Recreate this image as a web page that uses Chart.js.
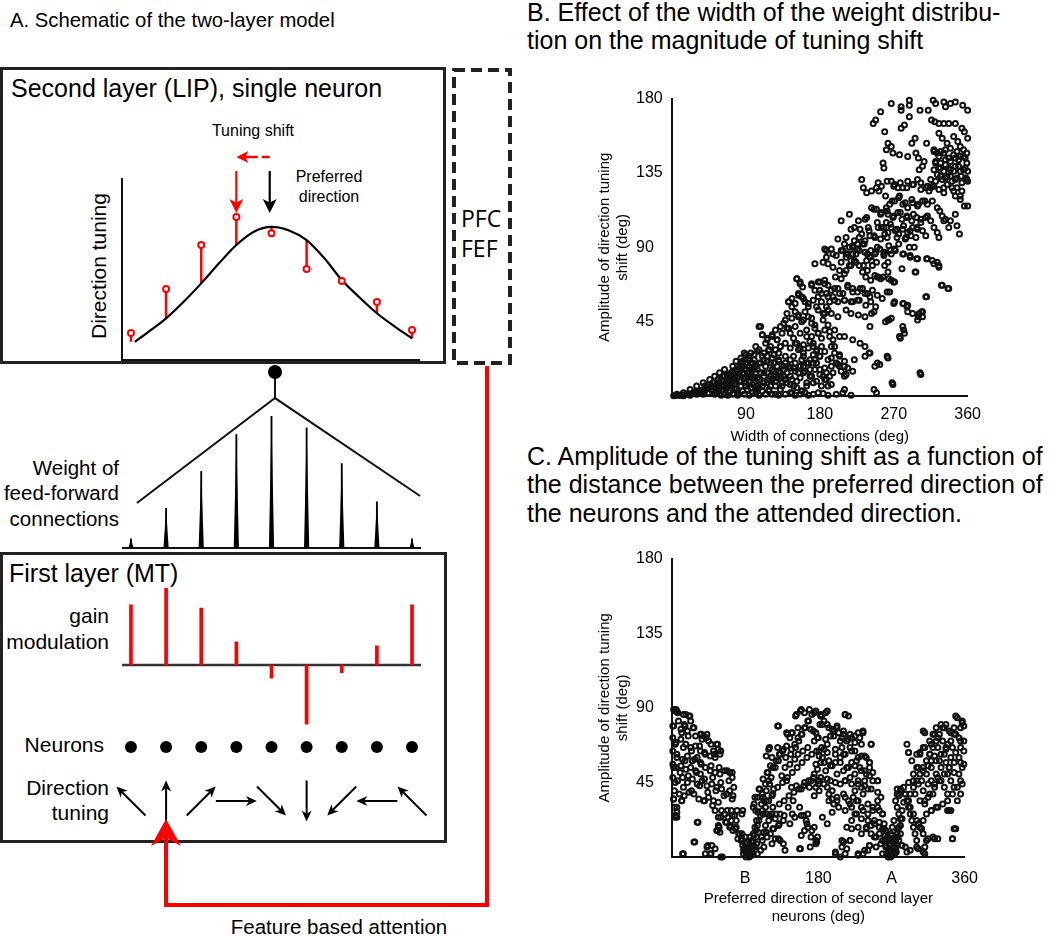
<!DOCTYPE html>
<html><head><meta charset="utf-8">
<script src="https://cdn.jsdelivr.net/npm/chart.js"></script>
<style>
html,body{margin:0;padding:0;background:#fff;}
#root{position:relative;width:1050px;height:936px;overflow:hidden;font-family:"Liberation Sans",Arial,Helvetica,sans-serif;color:#000;}
.t{position:absolute;white-space:nowrap;color:#000;}
canvas{position:absolute;}
.box{position:absolute;box-sizing:border-box;border:3px solid #222;}
.red{position:absolute;background:#f00;}
</style></head><body><div id="root"></div>
<script>
// ---------------- DATA ----------------
const neuronIndex = [0, 1, 2, 3, 4, 5, 6, 7, 8];
// second-layer direction tuning curve (black)
const tuningCurveX = [0.11, 0.5, 1, 1.5, 2, 2.5, 3, 3.5, 4, 4.5, 5, 5.5, 6, 6.5, 7, 7.5, 8];
const tuningCurveY = [0.10, 0.155, 0.229, 0.32, 0.421, 0.53, 0.632, 0.705, 0.731, 0.712, 0.659, 0.56, 0.44, 0.345, 0.257, 0.185, 0.119];
// red stems: from curve value to attended response
const tuningStemBase = [0.10, 0.229, 0.421, 0.632, 0.731, 0.659, 0.44, 0.257, 0.119];
const tuningAttended = [0.148, 0.39, 0.632, 0.786, 0.696, 0.50, 0.434, 0.319, 0.165];
const attendedIndex = 3;
const preferredIndex = 3.95;
// feed-forward weights
const weightValues = [0.07, 0.30, 0.58, 0.86, 1.0, 0.91, 0.64, 0.35, 0.07];
// gain modulation of first layer
const gainValues = [0.78, 1.0, 0.74, 0.30, -0.17, -0.77, -0.10, 0.25, 0.78];
// preferred direction of first layer neurons (deg, math convention)
const directionAngles = [135, 90, 45, 0, -45, -90, -135, 180, 135];

// panel B
const bXTicks = [90, 180, 270, 360];
const bYTicks = [45, 90, 135, 180];
const panelBPoints = [
[267,177],[279,175],[279,173],[289,179],[289,176],[302,173],[312,173],[318,179],[321,177],[331,178],[333,175],[339,177],[345,178],[354,176],[360,173],[254,172],[259,160],[245,165],[248,167],[289,169],[279,162],[283,164],[292,153],[296,156],[310,153],[316,167],[320,166],[325,165],[331,165],[337,165],[345,165],[353,162],[356,160],[360,156],[325,159],[329,156],[335,153],[343,157],[348,154],[351,151],[263,153],[267,151],[261,149],[269,147],[277,146],[287,145],[297,147],[300,144],[307,142],[305,139],[301,137],[257,141],[258,138],
[319,149],[323,147],[327,148],[333,149],[339,150],[347,148],[355,149],[359,147],[321,142],[327,141],[333,143],[339,142],[345,144],[351,145],[357,144],[319,137],[325,138],[331,136],[337,138],[343,136],[349,139],[355,137],[360,136],[327,133],[333,132],[339,133],[345,131],[352,133],[358,132],[315,131],[321,130],[317,127],[335,128],[341,126],[347,126],[353,124],[331,126],[345,121],[351,119],[356,115],[360,115],[360,130],[337,102],[333,107],[339,106],[345,110],[350,98],[347,103],[323,99],[325,96],[329,109],[331,106],
[267,130],[271,128],[275,126],[281,126],[287,130],[293,128],[299,131],[303,129],[309,126],[313,124],[319,127],[243,124],[249,126],[255,127],[251,129],[231,131],[233,126],[237,123],[243,114],[249,113],[255,111],[261,114],[265,116],[271,118],[277,121],[281,116],[287,114],[293,117],[299,115],[305,118],[311,116],[317,118],[323,114],[326,112],[263,110],[269,108],[275,111],[280,107],[286,109],[292,106],[298,108],[303,105],[309,108],[315,106],[319,102],[261,105],[255,102],[259,98],[263,99],[267,102],[272,100],[276,98],[281,101],[287,99],[293,102],[299,101],[305,100],[309,97],[285,96],[291,97],[297,96],
[206,106],[216,110],[218,101],[212,96],[222,102],[229,101],[227,106],[235,107],[237,108],[202,95],[210,92],[220,90],[226,92],[235,94],[241,97],[247,96],[251,102],[239,102],[231,98],
[276,92],[271,89],[267,86],[259,87],[263,81],[259,79],[281,86],[290,84],[299,83],[311,83],[317,82],[323,81],[325,79],[289,90],[295,90],[253,89],[247,86],[241,84],[235,87],[224,86],[218,82],[212,84],[206,81],[196,86],[188,84],[194,89],[186,89],[190,80],[184,81],[174,80],
[196,78],[199,72],[206,71],[212,76],[218,79],[224,81],[233,79],[237,82],[243,82],[249,81],[247,73],[251,72],[257,72],[263,75],[267,70],[271,69],[297,75],[329,67],[337,65],[309,60],[305,51],[301,50],[281,56],[287,55],[271,57],[265,63],[267,47],[263,46],[178,60],[182,62],[170,68],[174,64],[180,69],[186,70],[190,67],[194,64],[202,65],[208,62],[214,66],[220,63],[229,65],[235,62],[241,60],[226,58],[218,57],[210,58],[198,58],[190,60],
[152,71],[156,69],[159,66],[154,62],[146,59],[142,57],[150,56],[158,60],[162,57],[166,54],[178,52],[184,50],[190,52],[194,50],[202,48],[212,52],[218,50],[227,49],[235,48],[241,42],[243,50],[140,50],[146,47],[154,49],[160,46],[170,47],[174,43],[138,46],[132,42],[126,40],[134,38],[142,41],[150,42],[156,38],[164,40],[170,36],[178,38],[186,40],[192,36],[198,40],[204,36],[210,36],[220,34],[229,32],[235,30],[281,42],[283,38],[277,36],[287,51],[293,50],[299,46],[305,48],
[108,42],[110,37],[116,35],[122,36],[128,34],[114,32],[120,30],[126,28],[132,30],[138,32],[144,29],[150,32],[154,28],[160,31],[166,29],[172,32],[176,28],[182,30],[186,27],[194,30],[198,26],[204,24],[210,18],[212,13],[208,2],[222,22],[235,24],[241,26],[247,18],[253,19],[263,23],[269,7],[249,2],[303,13],[180,24],[174,22],[166,20],[158,22],[150,20],[144,22],[138,24],[130,21],[122,23],[116,21],[110,24],[104,27],[100,22],[106,20],[190,22],[194,18],[186,17],
[96,26],[90,25],[84,23],[78,21],[74,18],[64,16],[58,14],[52,12],[46,10],[38,8],[30,6],[22,4],[14,2],[6,1],
[54,7],[62,9],[68,11],[72,14],[78,16],[82,14],[86,18],[92,20],[96,16],[98,12],[94,9],[90,6],[86,3],[80,2],[76,5],[72,8],[66,5],[60,3],[54,2],[48,4],[42,5],[34,3],[26,2],[18,1],[10,0.5],[82,9],[76,11],[70,2],[64,1],[102,14],[106,10],[112,8],[116,14],[122,16],[128,11],[134,8],[140,14],[146,10],[152,5],[158,3],[164,8],[170,12],[176,9],[182,6],[188,10],[194,7],[162,2],[178,2],[144,2],[122,1],[102,2],[96,5],[110,3],[132,4],[154,14],[148,17],[136,18],[130,15],[114,18],[104,11],[96,11],[92,14],[88,11],[84,6],[78,4],[74,1],[52,1],[38,1],[30,1],[22,0.5],[14,0.2],[44,2],[58,5],[66,7],[46,7],
[62,4],[68,6],[74,9],[80,12],[86,14],[90,16],[94,18],[98,20],[100,8],[104,6],[108,14],[112,12],[118,10],[120,20],[124,12],[126,6],[118,4],[88,8],[92,4],[98,2],[70,10],[60,7],[56,4],[50,3],[40,3],[36,2],[28,1.5],[20,1],[84,20],[88,22],[94,24],[100,25],[102,30],[106,28],[112,26],[118,28],[124,20],[130,26],[136,12],[142,18],[148,24],[156,18],[160,14],[168,16],[172,20],[160,24],
[188,88],[200,85],[208,88],[214,86],[220,91],[226,89],[234,92],[242,88],[250,90],[258,85],[264,91],[272,88],[282,86],[290,85],[298,83],[310,83],[319,80],[325,78],[280,77],[296,75],[264,71],[270,69],[250,72],[254,71],[236,72],[242,70],
[152,71],[156,68],[170,67],[178,69],[186,68],[180,64],[188,62],[198,65],[204,62],[202,57],[210,58],[220,57],[228,58],[236,55],[242,57],[248,54],[246,51],[262,63],[270,56],[282,56],[286,54],[310,60],[304,51],[300,48],[328,67],[336,65],[264,46],[260,45],[282,40],[278,35],[240,26],[250,20],[262,24],[268,8],[302,14],[246,4],[210,4],
[142,57],[146,54],[150,51],[154,48],[158,45],[162,51],[166,48],[170,44],[174,41],[178,38],[182,35],[184,46],[190,43],[192,39],[196,34],[198,30],[136,44],[140,41],[144,38],[148,35],[152,32],[156,29],[160,26],[164,36],[168,33],[172,30],[176,27],[180,24],[106,42],[110,37],[116,34],[122,37],[128,34],[132,30],[118,28],[124,25],[130,22],[138,20],[144,17],[150,15],[156,18],[162,15],[168,12],[174,16],[180,13],[186,10],[190,6],[172,8],[164,6],[158,3],[146,2],[134,6],[122,10],[112,14],[102,18],[94,22],[88,26],[98,12],[90,8],[106,5],[118,3],[194,23],[202,19],[206,15],[210,12],[204,25],[210,21],[214,17],[220,15],
[186,50],[188,54],[192,57],[196,60],[182,57],[176,54],[172,58],[166,56],[160,59],[154,61],[204,76],[210,74],[216,79],[222,82],[228,79],[232,75],[238,76],[244,79],[214,67],[220,65],[226,63],[232,65],[238,62],[244,64],[250,61],[256,59],
[319,148],[325,145],[331,147],[337,144],[343,146],[349,143],[355,145],[359,141],[321,141],[327,138],[333,140],[339,137],[345,139],[351,136],[357,138],[323,134],[329,131],[335,133],[341,130],[347,132],[353,129],[359,131],[315,126],[325,125],[331,123],[343,124],[351,121],
[262,130],[270,127],[278,129],[286,126],[294,128],[303,125],[311,127],[252,124],[260,121],[268,118],[276,120],[284,117],[292,119],[300,116],[308,118],[246,113],[254,110],[262,112],[270,109],[278,111],[286,108],[294,110],[303,107],[311,109],[250,105],[258,102],[266,104],[274,101],[282,103],[290,100],[298,102],[240,100],[246,97],[254,95],[262,96],[274,96],[284,95],[228,96],[232,92],[222,94],[216,90],[206,88],[212,86],[220,86],[228,88],[238,86],[248,87],[258,86],[266,88],
[2,0.2],[4,0.3],[8,0.5],[12,0.6],[16,0.8],[20,1.2],[24,1.5],[28,2.5],[32,2],[36,3.5],[40,4],[44,4.5],[48,6],[52,5],[56,8],[60,10],[64,12],[68,13],[72,11],[76,13],[80,18],[84,16],[88,16],[92,12],[96,20],[100,17],[104,16],[108,20],[112,22],[116,24],[120,12],[124,15],[128,18],[132,14],[136,16],[140,8],[144,12],[148,6],[152,9],[156,11],[160,18],[164,20],[168,22],[172,25],[176,20],[180,16],[184,12],[188,14],[192,12],[196,14],[200,20],[204,18],
[60,0.5],[68,0.5],[80,0.5],[88,1],[94,0.5],[106,0.5],[114,1],[126,1],[130,0.5],[138,1],[150,0.5],[156,1],[166,0.5],[172,1],[184,1.5],[190,0.5],[200,1],[218,0.5],
[40,6],[44,7],[50,8],[56,10],[62,12],[66,10],[70,13],[74,15],[78,13],[82,17],[86,21],[90,20],[94,14],[98,16],[100,11],[56,6],[62,6],[70,6],[76,7],[84,9],[90,11],[98,7],[104,4],[110,6],[116,8],[120,6],[126,9],[132,12],[138,10],[144,7]
];

// panel C
const cXTicks = [90, 180, 270, 360];
const cXTickLabels = ['B', '180', 'A', '360'];
const cYTicks = [45, 90, 135, 180];
const panelCPoints = [
[5,89],[7,87],[1,79],[17,86],[21,85],[23,82],[15,80],[11,77],[19,76],[27,78],[29,73],[35,74],[39,73],[43,74],[37,71],[45,70],[55,68],[57,65],[51,64],[1,72],[5,69],[11,71],[17,68],[23,66],[29,67],[35,64],[41,62],[47,61],[53,60],[59,62],[1,64],[6,62],[13,59],[19,61],[25,58],[31,60],[35,57],[1,56],[5,54],[11,55],[17,53],[23,54],[29,52],[35,50],[41,54],[47,52],[53,51],[59,50],[65,52],[71,51],[74,48],[1,48],[7,46],[13,48],[19,45],[25,47],[31,44],[37,46],[43,43],[49,44],[55,42],[61,41],[67,38],[71,40],[75,37],[3,40],[9,38],[15,37],[21,39],[27,38],[33,35],[39,34],[45,36],[51,34],[57,33],[2,35],[12,34],[3,30],[6,27],[6,24],[5,25],[31,21],[27,9],[13,2],[43,6],[49,7],[53,5],[41,2],[47,2],[62,0],[2,89],[6,88],
[53,28],[57,24],[61,28],[65,26],[69,24],[73,28],[77,25],[73,22],[79,22],[67,21],[71,18],[75,16],[79,18],[83,14],[81,11],[85,10],[87,7],[89,5],[91,3],[93,1],[87,28],[86,26],[55,16],[59,15],[57,19],
[95,4],[97,7],[99,10],[101,13],[103,16],[105,19],[107,22],[109,25],[111,28],[103,28],[101,32],[105,36],[107,41],[111,38],[113,34],[115,30],[117,26],[119,22],[115,19],[113,15],[117,12],[111,10],[113,6],[109,4],[105,2],[100,2],[91,0],[95,0],[123,8],[127,11],[133,10],[139,4],[121,14],[125,17],[131,19],[137,22],[133,26],[127,23],[123,26],[119,34],[123,37],[125,41],[119,46],[115,44],[117,51],[121,55],[123,60],[119,65],[127,54],[131,58],[133,62],[137,65],[131,79],[141,75],[147,75],[145,72],[141,67],[147,65],[151,68],[155,72],[159,74],[155,78],[153,86],[159,89],[163,87],[169,89],[175,87],[167,82],[163,78],[171,77],[177,75],[175,70],[167,66],[161,64],[155,62],[151,59],[145,56],[139,54],[135,49],[141,46],[147,42],[153,43],[159,41],[163,45],[169,42],[171,46],[175,50],[179,53],[183,57],[181,61],[187,65],[191,68],[195,73],[199,76],[203,78],[187,82],[191,80],[189,87],[183,86],[197,77],[205,75],[211,74],[213,86],[217,85],[209,72],[215,70],[221,72],[225,73],[231,72],[235,75],[245,68],[219,66],[225,64],[213,62],[207,60],[201,57],[195,55],[189,52],[183,48],[179,46],[177,42],[193,34],[199,32],[197,27],[203,36],[211,38],[217,34],[223,36],[229,34],[235,38],[241,41],[247,46],[253,46],[243,49],[237,52],[231,54],[225,50],[219,48],[213,46],[207,44],[215,54],[221,57],[227,58],[233,61],[239,60],[243,57],[243,54],[235,28],[241,26],[247,30],[253,34],[255,28],[249,22],[245,19],[239,17],[233,14],[229,18],[221,22],[215,18],[219,10],[211,9],[209,6],[201,3],[207,0],[213,2],[229,1],[235,2],[241,4],[243,7],[249,12],[255,14],[259,17],[261,20],[255,21],[259,26],[263,16],[265,12],[267,8],[269,4],[271,1],[266,0],[263,6],[262,10],[257,8],[251,6],[259,2],[177,10],[171,12],[167,18],[163,16],[159,13],[165,22],[157,5],[137,8],[131,11],[167,26],[181,40],[175,37],[191,42],[197,40],
[185,60],[193,58],[201,62],[209,66],[187,44],[195,46],[203,50],[211,52],[229,44],[237,46],[225,40],[233,42],[205,30],[213,28],[221,30],[227,26],[185,24],[191,20],[157,30],[149,34],[143,30],[151,24],[145,20],[159,25],
[275,4],[277,7],[279,10],[275,12],[281,14],[277,17],[281,19],[283,23],[279,26],[277,30],[275,34],[277,38],[281,41],[285,42],[287,38],[289,34],[291,30],[293,26],[295,22],[297,18],[299,14],[301,10],[293,4],[287,6],[283,7],[303,5],[311,2],[311,6],[315,11],[323,11],[345,11],[349,17],[291,45],[297,46],[297,50],[291,63],[289,68],[301,62],[305,63],[309,66],[311,75],[303,54],[309,52],[315,55],[319,58],[323,61],[317,62],[303,44],[309,40],[315,36],[311,32],[305,34],[299,38],[321,38],[323,44],[327,48],[331,46],[335,42],[339,38],[331,54],[337,57],[343,60],[349,63],[355,66],[359,70],[353,72],[347,74],[341,76],[335,78],[331,80],[325,78],[321,74],[327,72],[333,70],[339,68],[345,66],[351,84],[357,81],[359,79],[347,78],[343,75],[337,65],[327,66],[319,68],[355,57],[359,56],[353,50],[357,44],[355,38],[351,34],[343,28],[339,28],[327,30],[319,28],[313,26],[309,22],[303,20],[307,17],[341,54],[347,51],[343,46],[347,42],[339,50],[335,62],[329,58],[325,50],[319,46],[315,44],[273,22],[271,18],[269,14],[273,8],
[4,88],[14,86],[22,85],[8,82],[2,79],[16,79],[26,78],[12,75],[20,73],[36,74],[42,72],[48,68],[56,68],[4,68],[14,66],[24,64],[34,67],[40,63],[52,62],[60,64],[6,60],[16,58],[28,59],[36,56],[48,55],[58,54],[68,52],[74,51],[2,54],[10,51],[20,49],[30,51],[40,47],[50,48],[60,45],[70,46],[76,42],[4,45],[14,42],[24,40],[34,43],[44,39],[54,40],[64,37],[74,35],[2,35],[12,34],[40,34],[50,31],[6,30],[4,24],[68,28],[74,25],[80,28],[60,24],[66,21],[72,19],[78,17],[82,14],[86,11],[90,8],[92,5],[88,2],[94,2],[56,16],[58,18],[32,21],[28,9],[14,2],[44,7],[48,2],[60,0],
[98,10],[100,14],[102,18],[104,22],[106,27],[110,32],[112,36],[116,40],[120,44],[122,48],[118,51],[124,54],[128,58],[132,62],[130,66],[136,64],[140,60],[146,62],[152,66],[156,70],[160,74],[164,78],[168,82],[172,86],[158,88],[152,85],[148,75],[142,74],[130,79],[120,66],[116,61],[112,47],[108,41],[102,36],[100,30],[116,34],[124,38],[130,42],[136,45],[142,48],[148,51],[154,54],[160,57],[166,60],[172,62],[178,64],[184,66],[180,72],[174,76],[182,80],[184,85],[124,30],[132,32],[138,34],[144,37],[150,39],[156,41],[162,43],[168,46],[174,48],[180,44],[112,26],[120,25],[128,26],[132,20],[138,25],[148,26],[162,25],[166,20],[172,16],[178,9],[158,5],[170,6],[104,8],[110,12],[116,15],[124,17],
[177,88],[183,85],[191,88],[213,86],[185,80],[193,78],[203,79],[211,76],[219,74],[229,75],[235,76],[179,72],[189,71],[199,73],[207,70],[217,71],[225,69],[233,68],[245,68],[181,64],[191,63],[201,65],[211,62],[221,64],[229,60],[237,61],[243,57],[177,56],[187,57],[197,55],[207,57],[217,54],[225,55],[233,52],[239,50],[247,51],[253,46],[181,46],[191,47],[201,45],[213,46],[221,44],[229,46],[237,43],[245,41],[253,39],[257,36],[193,38],[197,35],[203,34],[213,36],[219,32],[227,34],[233,30],[241,32],[247,28],[253,30],[259,26],[225,26],[233,23],[241,22],[249,20],[255,18],[261,17],[239,18],[245,14],[251,12],[259,10],[263,7],[267,3],[269,0],[221,17],[209,10],[219,10],[215,5],[201,2],[229,2],[237,4],[243,7],[175,18],[179,12],[177,8],
[273,6],[275,10],[277,14],[279,18],[281,23],[283,28],[285,33],[279,37],[277,41],[281,40],[287,38],[291,34],[293,30],[297,26],[301,22],[305,18],[309,14],[313,10],[293,38],[297,42],[301,46],[305,50],[309,54],[313,58],[317,62],[321,66],[325,70],[329,74],[333,78],[337,80],[349,85],[357,82],[355,78],[349,74],[343,70],[337,66],[331,62],[325,58],[319,54],[313,50],[307,46],[301,54],[295,58],[291,63],[305,62],[311,66],[317,70],[323,74],[309,76],[355,70],[359,64],[353,60],[347,57],[341,54],[335,50],[329,46],[323,42],[317,38],[311,34],[357,54],[355,46],[351,42],[345,38],[339,34],[333,32],[325,30],[319,28],[341,28],[347,17],[321,12],[327,11],[345,11],[301,6],[309,3],[289,3],
[88,4],[90,6],[92,3],[94,6],[96,3],[98,5],[100,6],[92,9],[96,12],[86,14],[90,12],[100,9],[102,6],[104,12],[106,15],[96,1],[98,1],[264,2],[266,5],[268,7],[270,3],[272,5],[274,2],[276,3],[268,11],[272,10],[276,8],[278,12],[262,13],[264,9],[270,13]
];

// ---------------- LAYOUT HELPERS ----------------
const root = document.getElementById('root');
const SANS = '"Liberation Sans", Arial, Helvetica, sans-serif';
const RED = '#f00';
function addDiv(cls, css, text) {
  const d = document.createElement('div');
  if (cls) d.className = cls;
  d.style.cssText = css;
  if (text != null) d.textContent = text;
  root.appendChild(d);
  return d;
}
function label(str, x, base, size, align, family, factor) {
  family = family || SANS;
  factor = factor || 0.8465;
  const tx = align === 'right' ? 'translateX(-100%)' : align === 'center' ? 'translateX(-50%)' : 'none';
  return addDiv('t', `left:${x}px;top:${base - factor * size}px;font-size:${size}px;line-height:${size}px;font-family:${family};transform:${tx};`, str);
}
function makeCanvas(left, top, w, h, z) {
  const c = document.createElement('canvas');
  c.width = w; c.height = h;
  c.style.left = left + 'px'; c.style.top = top + 'px';
  c.style.width = w + 'px'; c.style.height = h + 'px';
  c.style.zIndex = z || 1;
  root.appendChild(c);
  return c.getContext('2d');
}
function arrow(ctx, x1, y1, x2, y2, o) {
  const ang = Math.atan2(y2 - y1, x2 - x1), ux = Math.cos(ang), uy = Math.sin(ang);
  const px = -uy, py = ux;
  const head = o.head, half = o.half, notch = o.notch || 0.25;
  ctx.save();
  ctx.strokeStyle = o.color; ctx.fillStyle = o.color; ctx.lineWidth = o.width;
  if (o.dash) ctx.setLineDash(o.dash);
  ctx.beginPath(); ctx.moveTo(x1, y1); ctx.lineTo(x2 - ux * head * 0.7, y2 - uy * head * 0.7); ctx.stroke();
  ctx.setLineDash([]);
  const hx = x2 - ux * head, hy = y2 - uy * head;
  ctx.beginPath();
  ctx.moveTo(x2, y2);
  ctx.lineTo(hx + px * half, hy + py * half);
  ctx.lineTo(x2 - ux * head * (1 - notch), y2 - uy * head * (1 - notch));
  ctx.lineTo(hx - px * half, hy - py * half);
  ctx.closePath(); ctx.fill();
  ctx.restore();
}

Chart.defaults.font.family = SANS;
Chart.defaults.color = '#000';
const IDX = { min: -0.255, max: 8.227 };
const baseOpts = (pad, ymin, ymax) => ({
  responsive: false, animation: false, events: [],
  layout: { padding: pad },
  plugins: { legend: { display: false }, tooltip: { enabled: false } },
  scales: {
    x: { type: 'linear', display: false, min: IDX.min, max: IDX.max, offset: false },
    y: { type: 'linear', display: false, min: ymin, max: ymax }
  }
});

// ---------------- TEXT ----------------
label('A. Schematic of the two-layer model', 10, 27, 20.3);
label('B. Effect of the width of the weight distribu-', 527, 21, 25);
label('tion on the magnitude of tuning shift', 527, 49.5, 25);
label('C. Amplitude of the tuning shift as a function of', 527, 465, 25);
label('the distance between the preferred direction of', 527, 493.5, 25);
label('the neurons and the attended direction.', 527, 522, 25);

addDiv('box', 'left:0px;top:67px;width:446px;height:297px;');
addDiv('box', 'left:0px;top:552px;width:447px;height:291px;');
label('Second layer (LIP), single neuron', 11, 97, 25);
label('Tuning shift', 253, 137, 16, 'center');
label('Preferred', 329, 183, 16, 'center');
label('direction', 329, 203, 16, 'center');
label('PFC', 461, 227, 23, 'left', '"Open Sans", sans-serif', 0.888);
label('FEF', 461, 257, 23, 'left', '"Open Sans", sans-serif', 0.888);
addDiv('t', 'left:97.7px;top:265.5px;font-size:21px;line-height:21px;transform:translate(-50%,-50%) rotate(-90deg);', 'Direction tuning');
label('Weight of', 119, 475, 20.5, 'right');
label('feed-forward', 119, 500.5, 20.5, 'right');
label('connections', 119, 526, 20.5, 'right');
label('First layer (MT)', 9, 582, 25);
label('gain', 109, 623, 21, 'right');
label('modulation', 109, 649, 21, 'right');
label('Neurons', 104, 752, 21, 'right');
label('Direction', 109, 795, 21, 'right');
label('tuning', 109, 820, 21, 'right');
label('Feature based attention', 339, 934, 20.5, 'center');

// red feedback path (feature based attention)
addDiv('red', 'left:485px;top:366px;width:4px;height:541px;z-index:5;');
addDiv('red', 'left:164px;top:903px;width:325px;height:4px;z-index:5;');
addDiv('red', 'left:164px;top:836px;width:4px;height:71px;z-index:5;');
addDiv('red', 'left:151px;top:819px;width:30px;height:27px;z-index:6;clip-path:polygon(50% 0,100% 100%,50% 70%,0 100%);');

// ---------------- CHART: second-layer tuning ----------------
const tuningDecor = {
  id: 'tuningDecor',
  beforeDatasetsDraw(chart) {
    const { ctx, chartArea: a, scales: { x, y } } = chart;
    ctx.save();
    ctx.strokeStyle = '#111'; ctx.lineWidth = 2;
    ctx.beginPath(); ctx.moveTo(a.left, a.top); ctx.lineTo(a.left, a.bottom); ctx.lineTo(a.right, a.bottom); ctx.stroke();
    ctx.strokeStyle = RED; ctx.lineWidth = 2.5;
    neuronIndex.forEach((n, i) => {
      const px = x.getPixelForValue(n);
      ctx.beginPath(); ctx.moveTo(px, y.getPixelForValue(tuningStemBase[i])); ctx.lineTo(px, y.getPixelForValue(tuningAttended[i])); ctx.stroke();
    });
    ctx.restore();
  },
  afterDraw(chart) {
    const { ctx, chartArea: a, scales: { x } } = chart;
    const xr = x.getPixelForValue(attendedIndex), xb = x.getPixelForValue(preferredIndex);
    arrow(ctx, xb, a.top - 21, xr, a.top - 21, { color: RED, width: 2.5, head: 12, half: 6, dash: [8, 4, 40] });
    arrow(ctx, xr, a.top - 7, xr, a.top + 35, { color: RED, width: 2.2, head: 14, half: 7 });
    arrow(ctx, xb, a.top - 7, xb, a.top + 35, { color: '#000', width: 2.2, head: 14, half: 7 });
    // PFC / FEF dashed box
    ctx.save(); ctx.strokeStyle = '#222'; ctx.lineWidth = 4; ctx.setLineDash([11, 6]);
    ctx.strokeRect(454, 10, 56, 293);
    ctx.restore();
  }
};
new Chart(makeCanvas(0, 60, 520, 315, 2), {
  type: 'scatter',
  data: { datasets: [
    { data: neuronIndex.map((n, i) => ({ x: n, y: tuningAttended[i] })), pointRadius: 3, borderWidth: 2, borderColor: RED, backgroundColor: '#fff', clip: false, order: 1 },
    { data: tuningCurveX.map((v, i) => ({ x: v, y: tuningCurveY[i] })), showLine: true, borderColor: '#000', borderWidth: 2.2, pointRadius: 0, cubicInterpolationMode: 'monotone', clip: false, order: 2 }
  ] },
  options: baseOpts({ left: 122, top: 118, right: 100, bottom: 15 }, 0, 1),
  plugins: [tuningDecor]
});

// ---------------- CHART: feed-forward weights ----------------
const weightDecor = {
  id: 'weightDecor',
  beforeDatasetsDraw(chart) {
    const { ctx, chartArea: a, scales: { x, y } } = chart;
    ctx.save();
    ctx.strokeStyle = '#111'; ctx.lineWidth = 2;
    ctx.beginPath(); ctx.moveTo(a.left, a.bottom); ctx.lineTo(a.right + 1, a.bottom); ctx.stroke();
    // convergence onto the second-layer neuron
    const apx = x.getPixelForValue(4.1), apy = y.getPixelForValue(1.136);
    ctx.beginPath();
    ctx.moveTo(x.getPixelForValue(0.17), y.getPixelForValue(0.341));
    ctx.lineTo(apx, apy);
    ctx.lineTo(x.getPixelForValue(8.23), y.getPixelForValue(0.394));
    ctx.moveTo(apx, apy); ctx.lineTo(apx, y.getPixelForValue(1.333));
    ctx.stroke();
    ctx.fillStyle = '#000';
    ctx.beginPath(); ctx.arc(apx, y.getPixelForValue(1.333), 7, 0, Math.PI * 2); ctx.fill();
    ctx.restore();
  },
  afterDatasetsDraw(chart) {
    const { ctx } = chart;
    const meta = chart.getDatasetMeta(0);
    ctx.save(); ctx.fillStyle = '#000';
    meta.data.forEach(el => {
      ctx.beginPath();
      ctx.moveTo(el.x - 2.6, el.base); ctx.lineTo(el.x, el.y); ctx.lineTo(el.x + 2.6, el.base);
      ctx.closePath(); ctx.fill();
    });
    ctx.restore();
  }
};
new Chart(makeCanvas(0, 355, 520, 205, 2), {
  type: 'bar',
  data: { datasets: [{ data: neuronIndex.map((n, i) => ({ x: n, y: weightValues[i] })), backgroundColor: '#000', barThickness: 1.2 }] },
  options: baseOpts({ left: 122, top: 61, right: 100, bottom: 12 }, 0, 1),
  plugins: [weightDecor]
});

// ---------------- CHART: gain modulation ----------------
const gainDecor = {
  id: 'gainDecor',
  beforeDatasetsDraw(chart) {
    const { ctx, chartArea: a, scales: { y } } = chart;
    ctx.save(); ctx.strokeStyle = '#333'; ctx.lineWidth = 2.5;
    const y0 = y.getPixelForValue(0);
    ctx.beginPath(); ctx.moveTo(a.left, y0); ctx.lineTo(a.right + 1, y0); ctx.stroke();
    ctx.restore();
  }
};
new Chart(makeCanvas(0, 578, 520, 160, 2), {
  type: 'bar',
  data: { datasets: [{ data: neuronIndex.map((n, i) => ({ x: n, y: gainValues[i] })), backgroundColor: RED, barThickness: 3 }] },
  options: baseOpts({ left: 122, top: 10, right: 100, bottom: 11.4 }, -0.8, 1.0),
  plugins: [gainDecor]
});

// ---------------- CHART: neurons & direction tuning ----------------
const dirDecor = {
  id: 'dirDecor',
  afterDatasetsDraw(chart) {
    const { ctx, scales: { x, y } } = chart;
    const cy = y.getPixelForValue(0), L = 20.5;
    neuronIndex.forEach((n, i) => {
      const cx = x.getPixelForValue(n), r = directionAngles[i] * Math.PI / 180;
      const dx = Math.cos(r) * L, dy = -Math.sin(r) * L;
      arrow(ctx, cx - dx, cy - dy, cx + dx, cy + dy, { color: '#000', width: 2, head: 11, half: 5, notch: 0.3 });
    });
  }
};
new Chart(makeCanvas(0, 725, 520, 110, 3), {
  type: 'scatter',
  data: { datasets: [{ data: neuronIndex.map(n => ({ x: n, y: 1 })), pointRadius: 6, borderWidth: 0, backgroundColor: '#000', clip: false }] },
  options: baseOpts({ left: 122, top: 22, right: 100, bottom: 34 }, 0, 1),
  plugins: [dirDecor]
});

// ---------------- SCATTER CHARTS B & C ----------------
function scatterChart(canvasCtx, points, xTicks, yTicks, xLabels, xTitle, yTitle, xPad, xTitlePadBottom, xAxisHeight) {
  return new Chart(canvasCtx, {
    type: 'scatter',
    data: { datasets: [{ data: points.map(p => ({ x: p[0], y: p[1] })), pointRadius: 2.5, borderWidth: 2, borderColor: '#111', backgroundColor: 'rgba(0,0,0,0)', clip: false }] },
    options: {
      responsive: false, animation: false, events: [],
      layout: { padding: { top: 17, right: 19, left: 56, bottom: 0 } },
      plugins: { legend: { display: false }, tooltip: { enabled: false } },
      scales: {
        x: {
          type: 'linear', min: 0, max: 360,
          afterBuildTicks: s => { s.ticks = xTicks.map(v => ({ value: v })); },
          afterFit: s => { s.height = xAxisHeight; },
          grid: { display: false, drawTicks: false },
          border: { display: true, color: '#111', width: 2 },
          ticks: { font: { size: 16 }, color: '#000', padding: xPad, maxRotation: 0, autoSkip: false,
                   callback: v => xLabels ? xLabels[xTicks.indexOf(v)] : String(v) },
          title: { display: true, text: xTitle, font: { size: 15 }, color: '#000', padding: { top: 0, bottom: xTitlePadBottom } }
        },
        y: {
          type: 'linear', min: 0, max: 180,
          afterBuildTicks: s => { s.ticks = yTicks.map(v => ({ value: v })); },
          afterFit: s => { s.width = 36; },
          grid: { display: false, drawTicks: false },
          border: { display: true, color: '#111', width: 2 },
          ticks: { font: { size: 16 }, color: '#000', padding: 9, crossAlign: 'far', autoSkip: false },
          title: { display: true, text: yTitle, font: { size: 15 }, color: '#000', padding: { top: -40, bottom: 0 } }
        }
      }
    }
  });
}
scatterChart(makeCanvas(580, 80, 410, 370, 1), panelBPoints, bXTicks, bYTicks, null,
  'Width of connections (deg)', ['Amplitude of direction tuning', 'shift (deg)'], 9, 4, 54);
scatterChart(makeCanvas(580, 540, 410, 396, 1), panelCPoints, cXTicks, cYTicks, cXTickLabels,
  ['Preferred direction of second layer', 'neurons (deg)'], ['Amplitude of direction tuning', 'shift (deg)'], 12, 10, 79);
</script>
</body></html>
